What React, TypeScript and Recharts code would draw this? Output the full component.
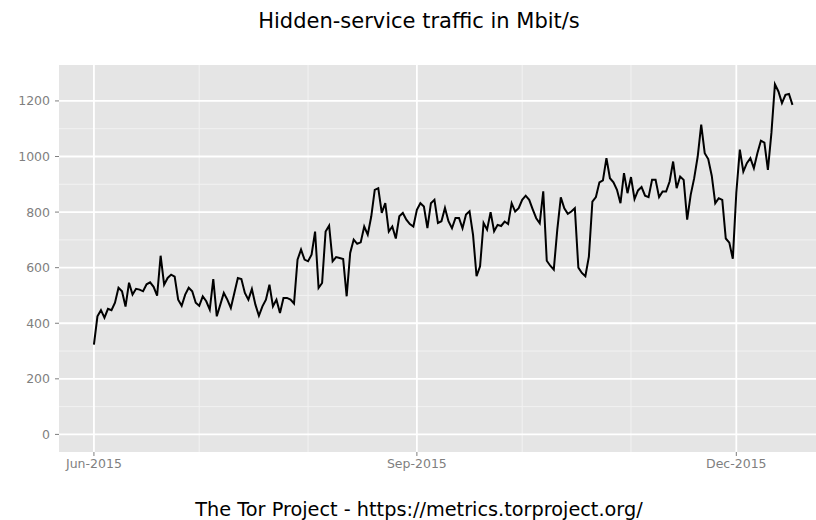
import React from 'react';
import { LineChart, Line, XAxis, YAxis, CartesianGrid } from 'recharts';

// daily hidden-service traffic (Mbit/s), one array per month, starting 2015-06-01
const jun = [323, 425, 447, 420, 452, 447, 474, 528, 515, 460, 546, 503, 524, 521, 515, 540, 547, 531, 499, 643, 539, 563, 575, 568, 485, 463, 503, 528, 515, 474];
const jul = [463, 497, 479, 449, 559, 425, 467, 509, 485, 455, 509, 563, 559, 509, 485, 523, 467, 427, 461, 485, 539, 461, 485, 437, 491, 491, 485, 471, 629, 665, 629];
const aug = [623, 647, 730, 527, 545, 730, 751, 623, 638, 635, 631, 497, 653, 701, 686, 691, 748, 719, 784, 880, 886, 797, 832, 730, 748, 705, 785, 797, 773, 757, 748];
const sep = [808, 832, 820, 742, 832, 844, 761, 767, 815, 767, 742, 779, 779, 742, 791, 803, 718, 569, 605, 761, 737, 800, 731, 754, 750, 766, 757, 832, 802, 814];
const oct = [844, 859, 844, 810, 778, 760, 875, 625, 607, 593, 737, 853, 814, 794, 802, 814, 600, 581, 569, 640, 838, 854, 907, 914, 994, 922, 907, 880, 832, 940, 868];
const nov = [926, 847, 878, 890, 859, 854, 916, 916, 854, 874, 874, 910, 982, 886, 928, 916, 773, 862, 922, 1000, 1115, 1012, 991, 931, 832, 850, 844, 705, 690, 632];
const dec = [870, 1025, 946, 976, 994, 958, 1012, 1057, 1050, 952, 1085, 1260, 1234, 1192, 1222, 1225, 1186];

const months = [jun, jul, aug, sep, oct, nov, dec];
const monthLabels = ['Jun-2015', 'Jul-2015', 'Aug-2015', 'Sep-2015', 'Oct-2015', 'Nov-2015', 'Dec-2015'];
const majorMonths = ['Jun-2015', 'Sep-2015', 'Dec-2015'];

const yTicks = [0, 200, 400, 600, 800, 1000, 1200];
const yMinor = [100, 300, 500, 700, 900, 1100];

const title = 'Hidden-service traffic in Mbit/s';
const caption = 'The Tor Project - https://metrics.torproject.org/';

// first day index of each month
const monthStart: number[] = [];
months.reduce((acc, m) => {
  monthStart.push(acc);
  return acc + m.length;
}, 0);

const data = months.flat().map((v, i) => ({ day: i, mbit: v }));

const xMajor = monthStart.filter((_, i) => majorMonths.includes(monthLabels[i]));
const xMinor = monthStart.filter((_, i) => !majorMonths.includes(monthLabels[i]));

const tickLabel = (d: number) => {
  const idx = monthStart.indexOf(d);
  return idx >= 0 ? monthLabels[idx] : '';
};

const font = '"DejaVu Sans", sans-serif';

export default function App() {
  return (
    <div style={{ position: 'absolute', left: 0, top: 0, width: 816, height: 520, overflow: 'hidden', background: '#fff', fontFamily: font }}>
      <div style={{ position: 'absolute', left: 0, top: 11, width: 838, textAlign: 'center', fontSize: 21, lineHeight: '21px', color: '#000' }}>
        {title}
      </div>
      <LineChart width={816} height={520} data={data} margin={{ top: 65, right: 0, left: 0, bottom: 38 }}>
        <CartesianGrid fill="#E5E5E5" stroke="#F2F2F2" strokeWidth={1} horizontalValues={yMinor} verticalValues={xMinor} />
        <CartesianGrid stroke="#FFFFFF" strokeWidth={1.8} horizontalValues={yTicks} verticalValues={xMajor} />
        <XAxis
          dataKey="day"
          type="number"
          domain={[-9.95, 205.7]}
          allowDataOverflow
          ticks={xMajor}
          tickFormatter={tickLabel}
          height={30}
          axisLine={false}
          tickSize={4}
          tickMargin={3}
          tickLine={{ stroke: '#7F7F7F' }}
          tick={{ fill: '#7F7F7F', fontSize: 12.5, fontFamily: font }}
        />
        <YAxis
          type="number"
          domain={[-63.3, 1329.3]}
          allowDataOverflow
          ticks={yTicks}
          width={59}
          axisLine={false}
          tickSize={4}
          tickMargin={5}
          tickLine={{ stroke: '#7F7F7F' }}
          tick={{ fill: '#7F7F7F', fontSize: 12.5, fontFamily: font }}
        />
        <Line type="linear" dataKey="mbit" stroke="#000" strokeWidth={2} dot={false} isAnimationActive={false} />
      </LineChart>
      <div style={{ position: 'absolute', left: 0, top: 500, width: 838, textAlign: 'center', fontSize: 19.3, lineHeight: '19px', color: '#000' }}>
        {caption}
      </div>
    </div>
  );
}
